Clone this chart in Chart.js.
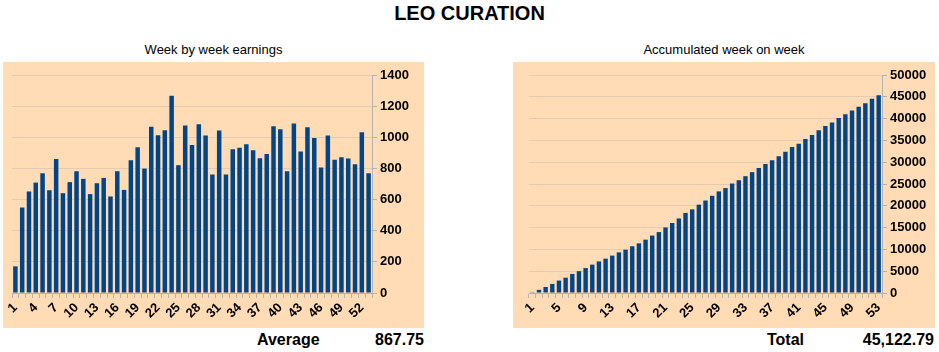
<!DOCTYPE html>
<html>
<head>
<meta charset="utf-8">
<script src="https://cdn.jsdelivr.net/npm/chart.js@4"></script>
<style>
  body { margin: 0; width: 939px; height: 352px; background: #fff; position: relative; overflow: hidden;
         font-family: "Liberation Sans", Arial, sans-serif; color: #000; }
  .txt { position: absolute; white-space: nowrap; }
  .panel { position: absolute; background: #ffdbb6; }
</style>
</head>
<body>
<div class="txt" style="left:0;width:939px;top:2px;text-align:center;font-size:20px;font-weight:bold;">LEO CURATION</div>
<div class="txt" style="left:3px;width:421px;top:42px;text-align:center;font-size:13px;">Week by week earnings</div>
<div class="txt" style="left:513px;width:422px;top:42px;text-align:center;font-size:13px;">Accumulated week on week</div>

<div class="panel" style="left:3px;top:62px;width:421px;height:266px;"><canvas id="weekly"></canvas></div>
<div class="panel" style="left:513px;top:62px;width:422px;height:266px;"><canvas id="accum"></canvas></div>

<div class="txt" style="left:257px;top:331px;font-size:16px;font-weight:bold;">Average</div>
<div class="txt" style="left:330px;width:94px;top:331px;text-align:right;font-size:16px;font-weight:bold;">867.75</div>
<div class="txt" style="left:767px;top:331px;font-size:16px;font-weight:bold;">Total</div>
<div class="txt" style="left:830px;width:104px;top:331px;text-align:right;font-size:16px;font-weight:bold;">45,122.79</div>

<script>
const weeks = Array.from({ length: 53 }, (_, i) => String(i + 1));

// weekly earnings
const weekly = [
    171, 549, 652, 709, 769, 660, 861, 641, 712, 782,
    733, 635, 705, 739, 620, 782, 662, 853, 936, 799,
    1068, 1013, 1045, 1267, 821, 1075, 951, 1083, 1011, 761,
    1043, 761, 923, 932, 955, 917, 865, 893, 1071, 1051,
    782, 1088, 908, 1064, 996, 806, 1011, 855, 872, 863,
    827, 1032, 769
];

// running total, the right chart
const accumulated = [];
weekly.reduce((sum, v) => { accumulated.push(sum + v); return sum + v; }, 0);

const barColor = '#004586';
const gridColor = '#e0cbb3';
const tickFont = { family: '"Liberation Sans", Arial, sans-serif', size: 13, weight: 'bold' };

function makeChart(id, values, yMax, yStep, labelEvery, left, yWidth) {
    return new Chart(document.getElementById(id), {
        type: 'bar',
        data: {
            labels: weeks,
            datasets: [{
                data: values,
                backgroundColor: barColor,
                barPercentage: 0.66,
                categoryPercentage: 1
            }]
        },
        options: {
            responsive: false,
            animation: false,
            maintainAspectRatio: false,
            layout: { padding: { left: left, top: 13, right: 0, bottom: 0 } },
            plugins: { legend: { display: false }, tooltip: { enabled: false } },
            scales: {
                x: {
                    grid: { drawOnChartArea: false, drawTicks: true, tickLength: 5, color: '#b3b3b3' },
                    border: { color: '#b3b3b3' },
                    ticks: {
                        autoSkip: false,
                        maxRotation: 45,
                        minRotation: 45,
                        padding: 2,
                        color: '#000',
                        font: tickFont,
                        callback: function (value, index) {
                            return index % labelEvery === 0 ? this.getLabelForValue(value) : '';
                        }
                    },
                    afterFit: s => { s.height = 35; }
                },
                y: {
                    position: 'right',
                    min: 0,
                    max: yMax,
                    grid: { color: gridColor, tickLength: 5, tickColor: '#b3b3b3' },
                    border: { color: '#b3b3b3' },
                    ticks: { stepSize: yStep, color: '#000', font: tickFont, padding: 3,
                             callback: v => String(v) },
                    afterFit: s => { s.width = yWidth; }
                }
            }
        }
    });
}

document.getElementById('weekly').width = 421;
document.getElementById('weekly').height = 266;
document.getElementById('accum').width = 422;
document.getElementById('accum').height = 266;

makeChart('weekly', weekly, 1400, 200, 3, 9, 52);
makeChart('accum', accumulated, 50000, 5000, 4, 16, 53);
</script>
</body>
</html>
